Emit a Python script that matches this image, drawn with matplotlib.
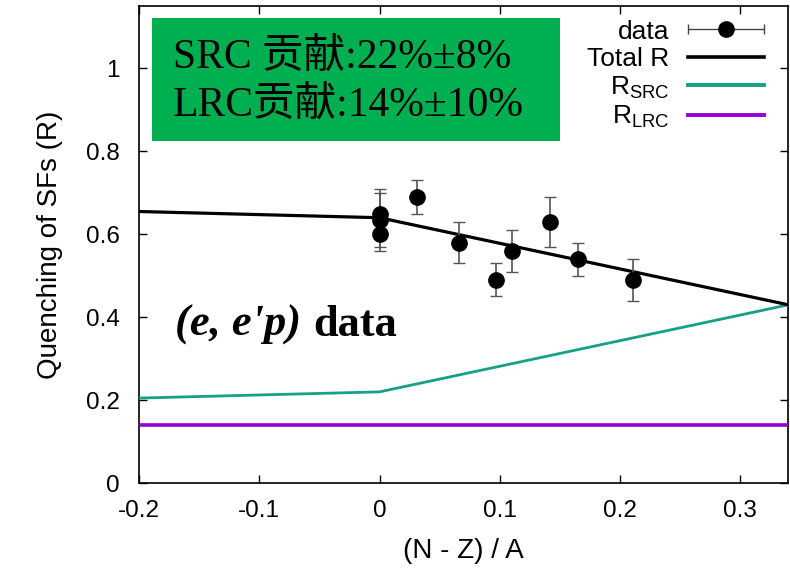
import numpy as np
import matplotlib.pyplot as plt
from matplotlib.patches import Rectangle
from matplotlib.legend_handler import HandlerErrorbar

plt.rcParams["font.family"] = ["Liberation Sans", "DejaVu Sans"]
plt.rcParams["mathtext.fontset"] = "custom"
plt.rcParams["mathtext.rm"] = "Liberation Sans"
plt.rcParams["mathtext.it"] = "Liberation Sans:italic"

# data points (x, R, error)
x_data = [0.0, 0.0, 0.0, 0.031, 0.066, 0.097, 0.110, 0.142, 0.165, 0.211]
r_data = [0.65, 0.635, 0.60, 0.69, 0.58, 0.49, 0.56, 0.63, 0.54, 0.49]
r_err = [0.06, 0.065, 0.04, 0.04, 0.05, 0.04, 0.05, 0.06, 0.04, 0.05]

# model curves
x_model = [-0.2, 0.0, 0.34]
r_total = [0.655, 0.64, 0.43]
r_src = [0.205, 0.22, 0.43]
r_lrc = [0.14, 0.14, 0.14]

x_ticks = [-0.2, -0.1, 0, 0.1, 0.2, 0.3]
x_ticklabels = ["-0.2", "-0.1", "0", "0.1", "0.2", "0.3"]
y_ticks = [0, 0.2, 0.4, 0.6, 0.8, 1.0]
y_ticklabels = ["0", "0.2", "0.4", "0.6", "0.8", "1"]

fig = plt.figure(figsize=(7.9, 5.69), dpi=100)
ax = fig.add_axes([0.176, 0.151, 0.822, 0.838])

ax.errorbar(x_data, r_data, yerr=r_err, fmt="o", color="black", ecolor="#555555",
            elinewidth=1.2, capsize=4, capthick=1.0, markersize=11, zorder=5)
ax.plot(x_model, r_total, color="black", lw=2.3, zorder=4)
ax.plot(x_model, r_src, color="#16a085", lw=2.0, zorder=3)
ax.plot(x_model, r_lrc, color="#9400d3", lw=2.6, zorder=3)

# legend proxies (gnuplot style, horizontal error bar)
h_data = ax.errorbar([np.nan], [np.nan], xerr=[[np.nan], [np.nan]], fmt="o", color="black",
                     ecolor="#444444", elinewidth=1.0, capsize=3.5, markersize=11)
h_tot, = ax.plot([], [], color="black", lw=2.6)
h_src, = ax.plot([], [], color="#16a085", lw=2.8)
h_lrc, = ax.plot([], [], color="#9400d3", lw=2.8)
ax.legend([h_data, h_tot, h_src, h_lrc],
          ["data", "Total R", r"R$_{\mathrm{SRC}}$", r"R$_{\mathrm{LRC}}$"],
          handler_map={type(h_data): HandlerErrorbar(xerr_size=1.44)},
          loc="upper right", bbox_to_anchor=(0.962, 0.972), frameon=False,
          markerfirst=False, fontsize=19, handlelength=2.88, labelspacing=0.13,
          handletextpad=0.7, borderpad=0.0, borderaxespad=0.0)

ax.set_xlim(-0.2, 0.34)
ax.set_ylim(0, 1.15)
ax.set_xticks(x_ticks)
ax.set_xticklabels(x_ticklabels)
ax.set_yticks(y_ticks)
ax.set_yticklabels(y_ticklabels)
ax.tick_params(direction="in", length=6, width=1, top=True, right=True, labelsize=17.5)
ax.tick_params(axis="x", pad=12)
ax.tick_params(axis="y", pad=14)
for s in ax.spines.values():
    s.set_linewidth(1.2)

ax.set_xlabel("(N - Z) / A", fontsize=20, labelpad=12)
ax.set_ylabel("Quenching of SFs (R)", fontsize=20, labelpad=16)

# green annotation box
ax.add_patch(Rectangle((0.02, 0.717), 0.629, 0.258, transform=ax.transAxes,
                       facecolor="#00b050", edgecolor="none", zorder=6))
cjk = ["Liberation Serif", "Noto Sans CJK SC"]
ax.text(0.052, 0.872, "SRC 贡献:22%±8%", transform=ax.transAxes, fontsize=30,
        family=cjk, va="baseline", ha="left", zorder=7)
ax.text(0.052, 0.771, "LRC贡献:14%±10%", transform=ax.transAxes, fontsize=30,
        family=cjk, va="baseline", ha="left", zorder=7)

t1 = ax.text(0.055, 0.31, "(e, e'p)", transform=ax.transAxes, fontsize=32,
             family="Liberation Serif", style="italic", weight="bold",
             va="baseline", ha="left")
ax.annotate("data", xy=(1, 0), xycoords=t1, xytext=(9, 0), textcoords="offset points",
            fontsize=32, family="Liberation Serif", weight="bold", va="bottom", ha="left")

fig.savefig("out.png", dpi=100)
